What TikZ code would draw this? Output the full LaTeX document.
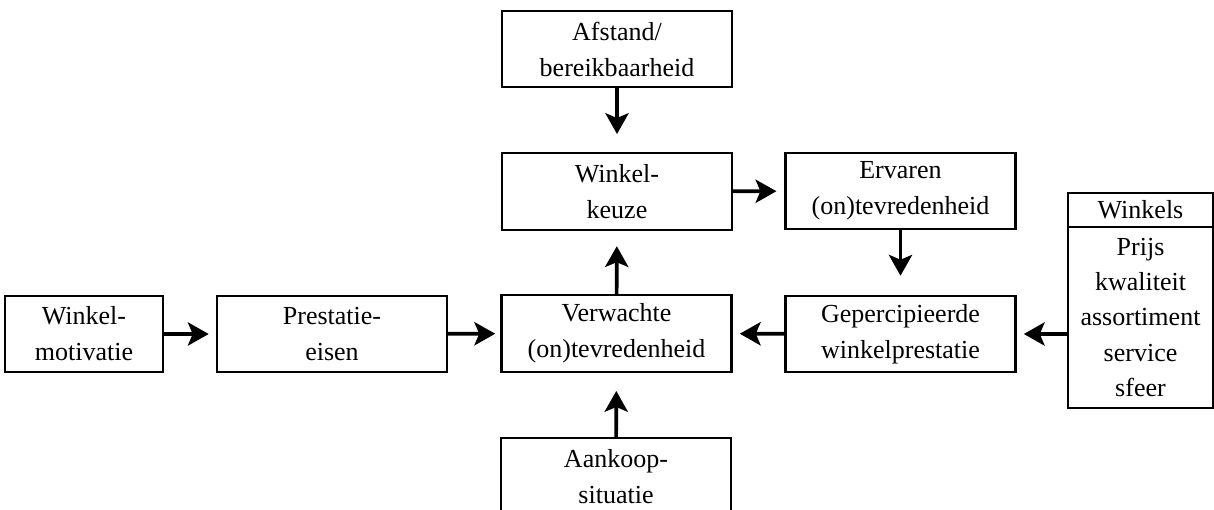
\documentclass[tikz,border=0pt]{standalone}
\usepackage{fontspec}
\setmainfont{Liberation Serif}
\usetikzlibrary{positioning, arrows.meta}

\begin{document}
\begin{tikzpicture}[x=0.025cm, y=-0.025cm,
    box/.style={draw, line width=1.5pt, inner sep=0pt, align=center,
      minimum width=5.75cm, minimum height=1.92cm,
      font=\fontsize{18.5pt}{25.6pt}\selectfont},
    arr/.style={line width=2.6pt, -{Stealth[length=0.52cm, width=0.58cm, inset=0.12cm]}}]
  \useasboundingbox (0,0) rectangle (1214,510);
    % middle column
    \node[box] (afstand) at (617,49) {Afstand/\\bereikbaarheid};
    \node[box] (keuze) at (617,191.5) {Winkel-\\keuze};
    \node[box] (verwachte) at (616.5,333.5) {Verwachte\\(on)tevredenheid};
    \node[box] (aankoop) at (616,476.5) {Aankoop-\\situatie};
    % right column
    \node[box] (ervaren) at (900.5,191) {Ervaren\\(on)tevredenheid};
    \node[box] (gepercipieerd) at (900.5,334) {Gepercipieerde\\winkelprestatie};
    % left
    \node[box, minimum width=3.95cm] (motivatie) at (84,334) {Winkel-\\motivatie};
    \node[box] (prestatie) at (332,334) {Prestatie-\\eisen};
    % winkels
    \node[box, minimum width=3.625cm, minimum height=0.85cm] (winkelskop) at (1140.5,210) {Winkels};
    \node[box, minimum width=3.625cm, minimum height=4.525cm,
          font=\fontsize{18.5pt}{24.9pt}\selectfont] (winkels) at (1140.5,317.5)
          {Prijs\\kwaliteit\\assortiment\\service\\sfeer};

    \draw[arr, shorten >=0.45cm] (afstand) -- (keuze);
    \draw[arr, shorten >=0.38cm] (verwachte) -- (keuze);
    \draw[arr, shorten >=0.45cm] (aankoop) -- (verwachte);
    \draw[arr, shorten >=0.2cm] (keuze) -- (ervaren);
    \draw[arr, shorten >=0.47cm] (ervaren) -- (gepercipieerd);
    \draw[arr, shorten >=0.18cm] (gepercipieerd) -- (verwachte);
    \draw[arr, shorten >=0.18cm] (motivatie) -- (prestatie);
    \draw[arr, shorten >=0.13cm] (prestatie) -- (verwachte);
    \draw[arr, shorten >=0.18cm] (winkels.west |- gepercipieerd.east) -- (gepercipieerd.east);
  \end{tikzpicture}
\end{document}
